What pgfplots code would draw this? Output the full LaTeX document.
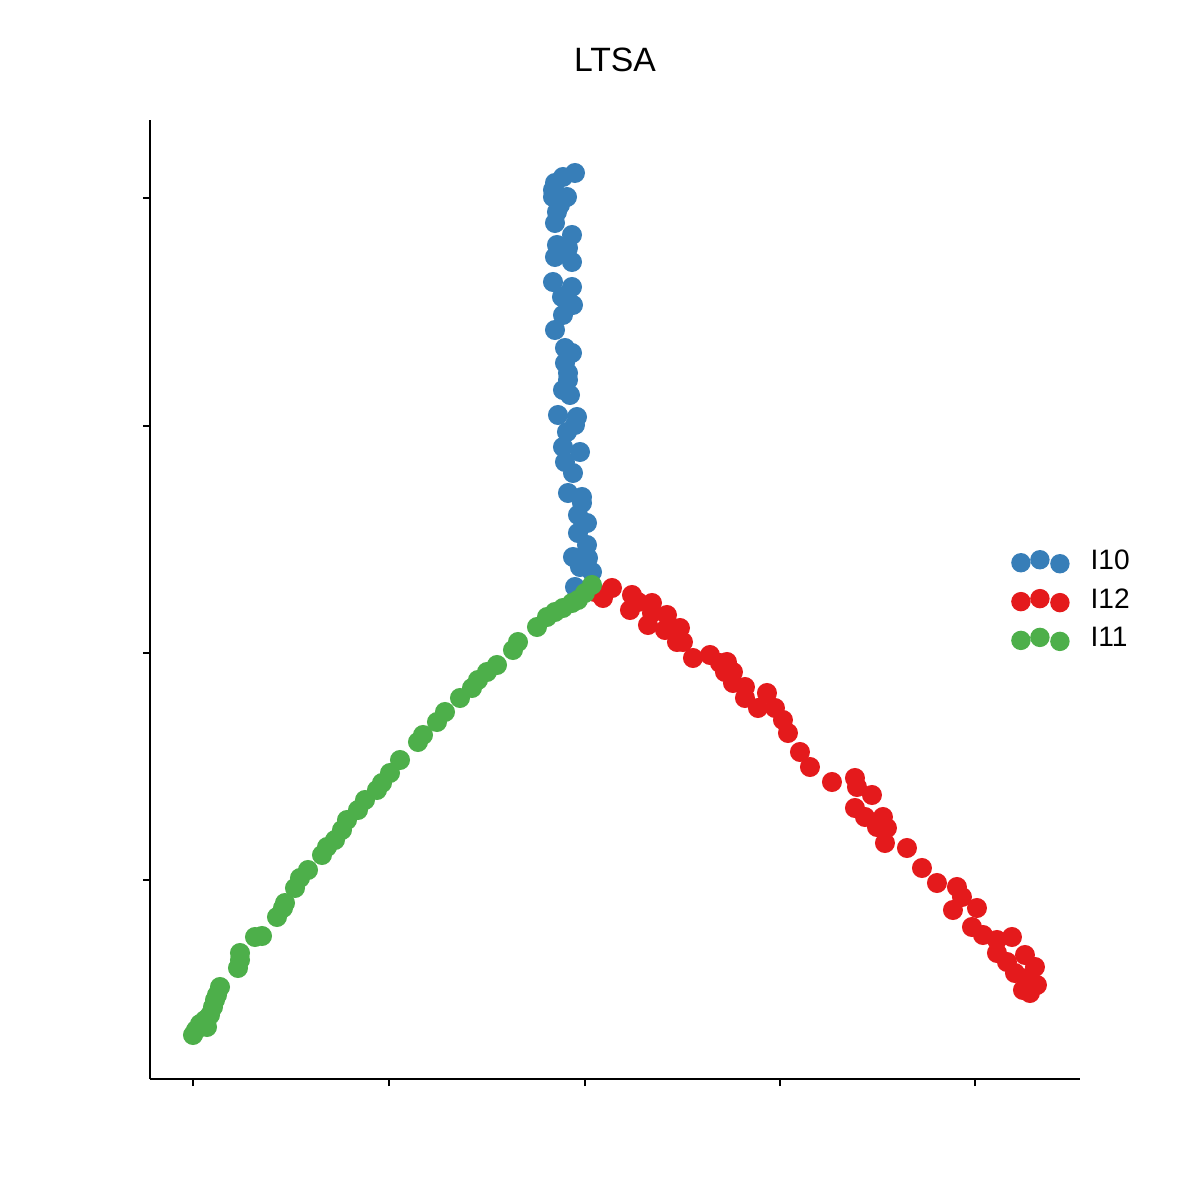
\documentclass[border=0pt]{standalone}
\usepackage{fontspec}
\setmainfont{Liberation Sans}
\usepackage{pgfplots}
\pgfplotsset{compat=1.18}

\definecolor{c10}{HTML}{377EB8}
\definecolor{c12}{HTML}{E41A1C}
\definecolor{c11}{HTML}{4DAF4A}

\begin{document}
\begin{tikzpicture}
\path[use as bounding box] (0,0) rectangle (12cm,12cm);
\begin{axis}[
    at={(1.5cm,1.21cm)}, anchor=south west,
    scale only axis, width=9.3cm, height=9.59cm,
    xmin=150, xmax=1080, ymin=-1079, ymax=-120,
    axis lines=left,
    axis line style={-, line width=0.25mm, black},
    tick style={line width=0.22mm, black},
    major tick length=0.7mm, tick align=outside,
    xtick={193,389,585,780,975},
    ytick={-880,-653,-426,-198},
    xticklabels={}, yticklabels={},
    clip=false,
    legend image code/.code={
        \fill (0mm,-0.05mm) circle (0.9mm);
        \fill (1.9mm,0.25mm) circle (0.9mm);
        \fill (3.9mm,-0.15mm) circle (0.9mm);
        \path (6.9mm,0mm);
    },
    legend style={at={(axis cs:1000,-601)}, anchor=west, draw=none, fill=none,
        font=\fontsize{8}{9.6}\selectfont, row sep=1.4mm,
        nodes={inner sep=0pt}},
    legend cell align=left,
]
\addplot[only marks, mark=*, color=c10, mark size=0.93mm, mark options={draw=none, fill=c10}] coordinates {
(575,-173) (563,-177) (555,-183) (553,-190) (553,-197) (567,-197) (560,-205)
(557,-212) (555,-223) (572,-235) (557,-245) (568,-248) (555,-257) (572,-262)
(553,-282) (572,-287) (562,-297) (573,-305) (563,-315) (555,-330) (565,-348)
(572,-353) (565,-363) (568,-373) (568,-380) (563,-390) (570,-395) (558,-415)
(577,-417) (575,-425) (567,-432) (563,-447) (580,-452) (565,-462) (573,-473)
(568,-493) (582,-497) (582,-503) (578,-515) (587,-523) (578,-533) (587,-545)
(573,-557) (588,-558) (580,-567) (592,-572) (575,-587)
};
\addlegendentry{I10}
\addplot[only marks, mark=*, color=c12, mark size=0.93mm, mark options={draw=none, fill=c12}] coordinates {
(595,-592) (603,-598) (612,-588) (632,-595) (638,-602) (630,-610) (652,-603)
(652,-613) (648,-625) (667,-615) (665,-630) (680,-628) (677,-642) (683,-642)
(693,-658) (710,-655) (720,-663) (727,-662) (725,-672) (733,-672) (733,-683)
(745,-687) (745,-698) (767,-693) (758,-708) (775,-708) (783,-720) (788,-733)
(800,-752) (810,-767) (832,-782) (855,-778) (857,-787) (872,-795) (855,-808)
(865,-817) (883,-817) (877,-827) (887,-828) (885,-843) (907,-848) (922,-868)
(937,-883) (957,-887) (962,-897) (953,-910) (977,-908) (972,-927) (983,-935)
(997,-940) (1012,-937) (997,-953) (1007,-962) (1025,-955) (1035,-967)
(1015,-973) (1027,-978) (1037,-985) (1030,-993) (1023,-990)
};
\addlegendentry{I12}
\addplot[only marks, mark=*, color=c11, mark size=0.93mm, mark options={draw=none, fill=c11}] coordinates {
(193,-1035) (196,-1030) (200,-1024) (205,-1020) (207,-1027) (210,-1015)
(213,-1007) (215,-1000) (217,-995) (220,-987) (238,-968) (240,-960) (240,-953)
(255,-937) (262,-936) (277,-917) (283,-908) (285,-903) (295,-888) (300,-878)
(308,-870) (322,-855) (327,-847) (335,-840) (342,-830) (347,-820) (358,-810)
(365,-800) (377,-790) (382,-783) (390,-773) (400,-760) (418,-742) (423,-735)
(437,-722) (445,-712) (460,-698) (472,-688) (478,-680) (487,-672) (497,-665)
(513,-650) (518,-642) (537,-627) (547,-617) (555,-612) (563,-608) (572,-603)
(578,-600) (585,-593) (592,-585)
};
\addlegendentry{I11}
\node[font=\fontsize{9.6}{11}\selectfont] at (axis cs:615,-60) {LTSA};
\end{axis}
\end{tikzpicture}
\end{document}
